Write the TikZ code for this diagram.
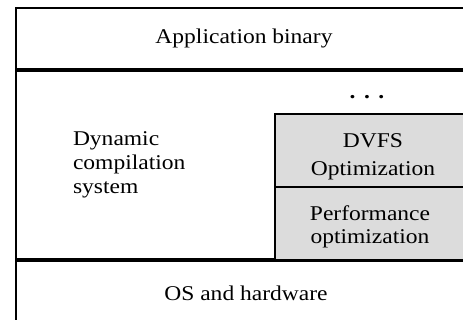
\documentclass[tikz,border=0pt]{standalone}
\usepackage{fontspec}
\setmainfont{Liberation Serif}[FakeStretch=1.12]
\definecolor{optgray}{RGB}{220,220,220}
\begin{document}
\begin{tikzpicture}[x=1pt,y=1pt,
  layer/.style={draw=black, line width=1.6pt, rectangle, inner sep=0pt, outer sep=0pt, anchor=north west, font=\fontsize{21}{25}\selectfont},
  optbox/.style={draw=black, fill=optgray, line width=1.4pt, rectangle, inner sep=0pt, outer sep=0pt, anchor=north west},
  txt/.style={inner sep=0pt, outer sep=0pt}]
\useasboundingbox (0,0) rectangle (463,320);
\clip (0,0) rectangle (463,320);
\node[layer, minimum width=456, minimum height=61.1] (app) at (16,312) {Application binary};
\node[layer, minimum width=456, minimum height=188.2] (dcs) at (16,249.1) {};
\node[layer, minimum width=460, minimum height=64.2] (os) at (16,59.1) {OS and hardware};
\node[optbox, minimum width=205, minimum height=73] (dvfs) at (275,206) {};
\node[optbox, minimum width=205, minimum height=73] (perf) at (275,133) {};
\node[txt, anchor=base, font=\fontsize{21}{25}\bfseries] (dots) at (367,221.5) {.\hspace{8.5pt}.\hspace{8.5pt}.};
\node[txt, anchor=north west, align=left, font=\fontsize{21}{24}\selectfont] (dyn) at (73,188.7) {Dynamic\\compilation\\system};
\node[txt, anchor=north, align=center, font=\fontsize{21}{28}\selectfont] (dvfstxt) at (373,186.7) {DVFS\\Optimization};
\node[txt, anchor=north, align=center, font=\fontsize{21}{23}\selectfont] (perftxt) at (370,114.3) {Performance\\optimization};
\end{tikzpicture}
\end{document}
